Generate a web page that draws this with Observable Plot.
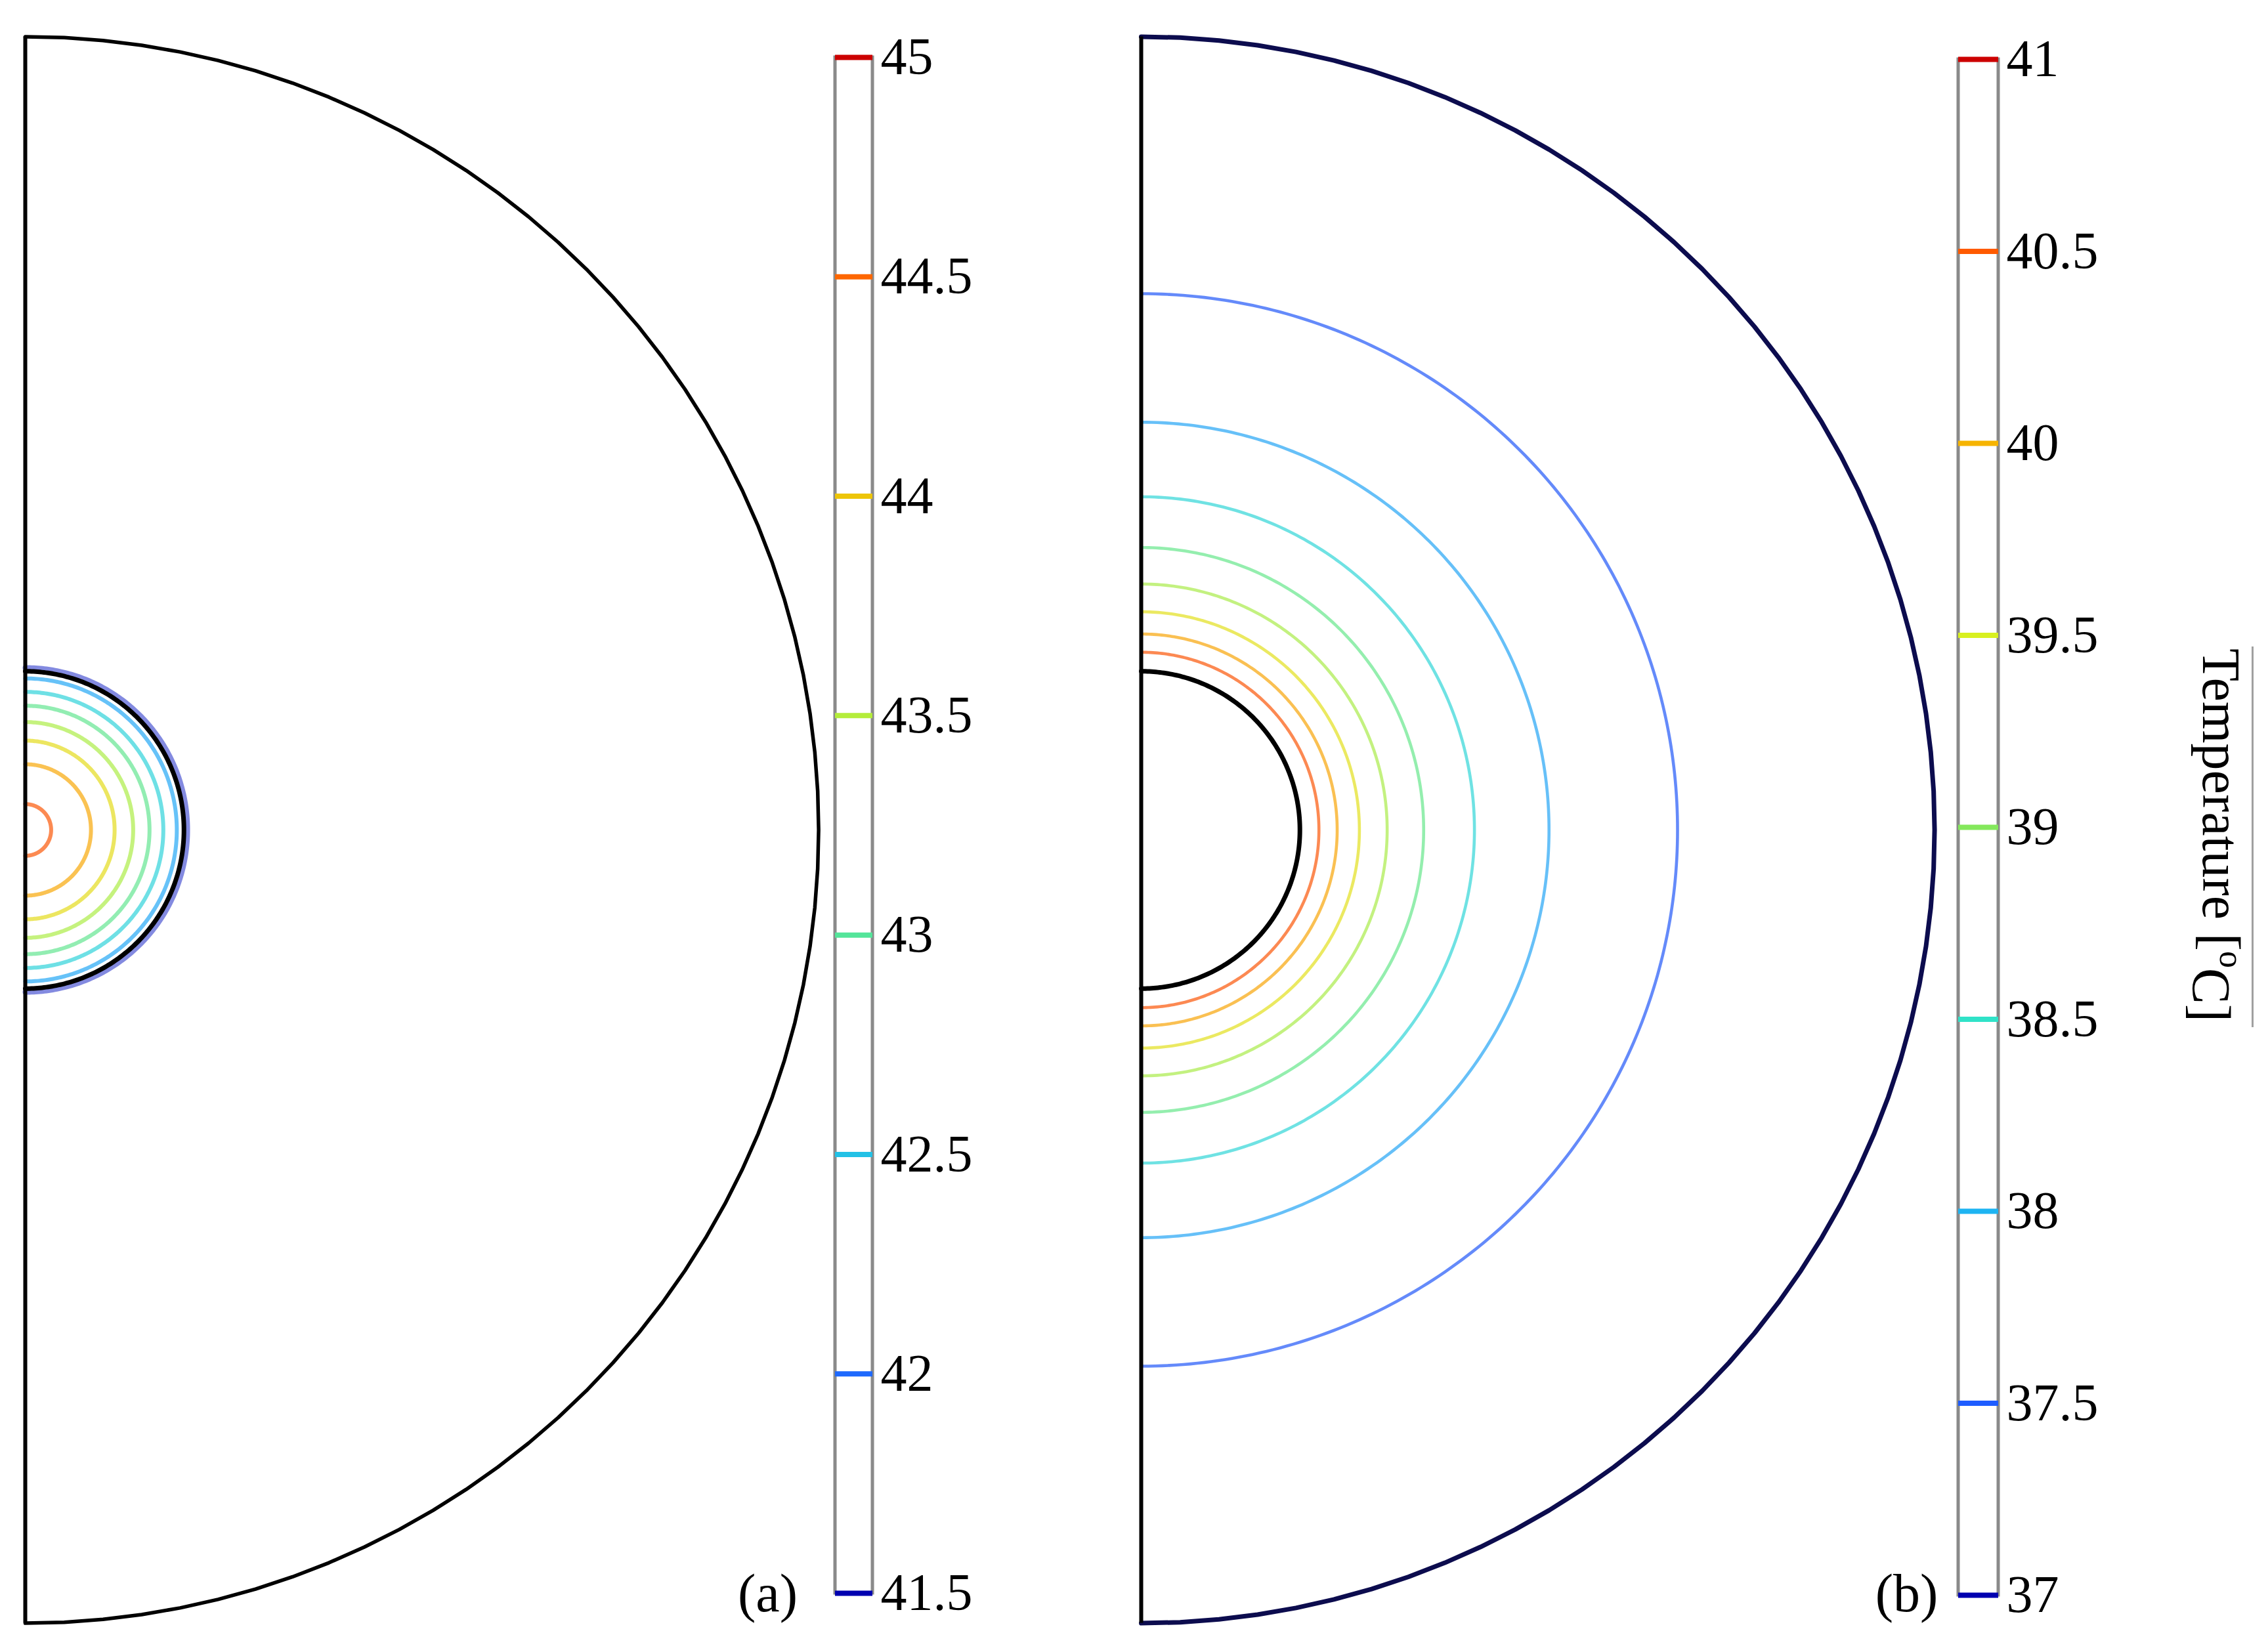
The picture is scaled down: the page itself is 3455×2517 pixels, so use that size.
<!DOCTYPE html>
<html>
<head>
<meta charset="utf-8">
<script src="https://cdn.jsdelivr.net/npm/d3@7"></script>
<script src="https://cdn.jsdelivr.net/npm/@observablehq/plot@0.6"></script>
<style>
  html, body { margin: 0; padding: 0; background: #fff; }
  #fig { position: relative; width: 3455px; height: 2517px; overflow: hidden; background: #fff; }
</style>
</head>
<body>
<div id="fig"></div>
<script>
// ---------------- data ----------------
const outerRadius = 50;          // outer boundary of the half-domain (arb. units)
const sphereRadius = 10;         // heated sphere boundary
// colour-bar ticks
const ticksA = [41.5, 42, 42.5, 43, 43.5, 44, 44.5, 45];
const ticksB = [37, 37.5, 38, 38.5, 39, 39.5, 40, 40.5, 41];
// panel (a): isotherms inside the sphere (radius, temperature)
const contourRadiiA = [1.63, 4.14, 5.63, 6.8, 7.83, 8.7, 9.55];
const contourTempsA = [44.6, 44.2, 43.85, 43.45, 43.05, 42.65, 42.3];
const haloRadiiA = [10.22];
const haloTempsA = [41.6];
// panel (b): isotherms outside the sphere
const contourRadiiB = [11.2, 12.35, 13.75, 15.5, 17.8, 21.0, 25.7, 33.8];
const contourTempsB = [40.55, 40.1, 39.65, 39.2, 38.8, 38.35, 37.9, 37.45];
// texts
const panelLabels = ["(a)", "(b)"];
const unitLabel = "Temperature [°C]";

// ---------------- layout ----------------
const W = 3455, H = 2517;
const CY = 1264;                 // vertical centre of both panels
const PX = 1208.6 / outerRadius; // px per unit
const axisXA = 38, axisXB = 1738;
const SERIF = "Liberation Serif, Times New Roman, serif";

const rainbow = d3.piecewise(d3.interpolateRgb, [
  "#0000b0", "#1e5cff", "#1eb4f2", "#30e2c8", "#84e85c",
  "#d8f020", "#f6b400", "#ff5a00", "#cc0000"
]);

function arc(r, n) {
  const pts = [];
  for (let i = 0; i <= n; i++) {
    const a = -Math.PI / 2 + Math.PI * i / n;
    pts.push({x: r * Math.cos(a), y: r * Math.sin(a)});
  }
  return pts;
}

function place(svg) {
  svg.setAttribute("style", "position:absolute;left:0;top:0;background:transparent;max-width:none;overflow:visible;");
  document.getElementById("fig").appendChild(svg);
  return svg;
}

function panel({axisX, ticks, radii, temps, haloR, haloT, outerStroke, outerWidth, lineWidth, label, labelX}) {
  const R = outerRadius;
  const contours = radii.flatMap((r, i) => arc(r, 240).map(p => ({...p, id: i, t: temps[i]})));
  const halo = (haloR || []).flatMap((r, i) => arc(r, 240).map(p => ({...p, id: i, t: haloT[i]})));
  const outer = arc(R, 64);
  const sphere = arc(sphereRadius, 240);
  return Plot.plot({
    width: W, height: H, margin: 0,
    x: {domain: [0, R], range: [axisX, axisX + PX * R], axis: null},
    y: {domain: [-R, R], range: [CY + PX * R, CY - PX * R], axis: null},
    color: {type: "linear", domain: d3.extent(ticks), interpolate: rainbow},
    marks: [
      Plot.line(halo, {x: "x", y: "y", z: "id", stroke: "t", strokeWidth: 8, strokeOpacity: 0.5}),
      Plot.line(contours, {x: "x", y: "y", z: "id", stroke: "t", strokeWidth: lineWidth, strokeOpacity: 0.68}),
      Plot.line(sphere, {x: "x", y: "y", stroke: "#000", strokeWidth: 7}),
      Plot.line(outer, {x: "x", y: "y", stroke: outerStroke, strokeWidth: outerWidth}),
      Plot.ruleX([{x: 0, y1: -R, y2: R}], {x: "x", y1: "y1", y2: "y2", stroke: "#000", strokeWidth: 6}),
      Plot.text([label], {frameAnchor: "top-left", dx: labelX, dy: 2396, text: d => d,
        fontFamily: SERIF, fontSize: 82, textAnchor: "middle", fill: "#000"})
    ]
  });
}

function colorbar({ticks, xr, yr, title}) {
  const lo = d3.min(ticks), hi = d3.max(ticks);
  // layout helpers: page pixel -> colour-bar coordinates
  const xi = d3.scaleLinear().domain(xr).range([0, 1]);
  const yi = d3.scaleLinear().domain(yr).range([lo, hi]);
  const extra = title ? [
    Plot.text([title], {x: xi(3382), y: yi(1272), text: d => d, rotate: 90,
      fontFamily: SERIF, fontSize: 82, textAnchor: "middle", fill: "#000"}),
    Plot.ruleX([{x: xi(3431), y1: yi(985), y2: yi(1565)}], {x: "x", y1: "y1", y2: "y2",
      stroke: "#a0a0a0", strokeWidth: 3})
  ] : [];
  return Plot.plot({
    width: W, height: H, margin: 0,
    x: {domain: [0, 1], range: xr, axis: null},
    y: {domain: [lo, hi], range: yr, axis: null},
    color: {type: "linear", domain: [lo, hi], interpolate: rainbow},
    marks: [
      Plot.rect([{x1: 0, x2: 1, y1: lo, y2: hi}], {x1: "x1", x2: "x2", y1: "y1", y2: "y2",
        fill: "#fff", stroke: "#8a8a8a", strokeWidth: 5}),
      Plot.ruleY(ticks, {y: d => d, x1: 0, x2: 1, stroke: d => d, strokeWidth: 8}),
      Plot.text(ticks, {y: d => d, x: 1, dx: 12, text: d => String(d), textAnchor: "start",
        fontFamily: SERIF, fontSize: 80, fill: "#000"}),
      ...extra
    ]
  });
}

place(panel({axisX: axisXA, ticks: ticksA, radii: contourRadiiA, temps: contourTempsA,
  haloR: haloRadiiA, haloT: haloTempsA, outerStroke: "#000", outerWidth: 5.5, lineWidth: 6,
  label: panelLabels[0], labelX: 1169}));
place(colorbar({ticks: ticksA, xr: [1272, 1329], yr: [2427, 87]}));

place(panel({axisX: axisXB, ticks: ticksB, radii: contourRadiiB, temps: contourTempsB,
  outerStroke: "#0c0c4e", outerWidth: 7, lineWidth: 4.6, label: panelLabels[1], labelX: 2904}));
place(colorbar({ticks: ticksB, xr: [2983, 3044], yr: [2430, 90], title: unitLabel}));

// superscript "o" in the unit label
d3.selectAll("#fig text").each(function() {
  const t = d3.select(this);
  if (t.text() === unitLabel) {
    t.text(null);
    t.append("tspan").text("Temperature [");
    t.append("tspan").attr("font-size", 52).attr("dy", "-0.5em").text("o");
    t.append("tspan").attr("dy", "0.5em").text("C]");
  }
});
</script>
</body>
</html>
